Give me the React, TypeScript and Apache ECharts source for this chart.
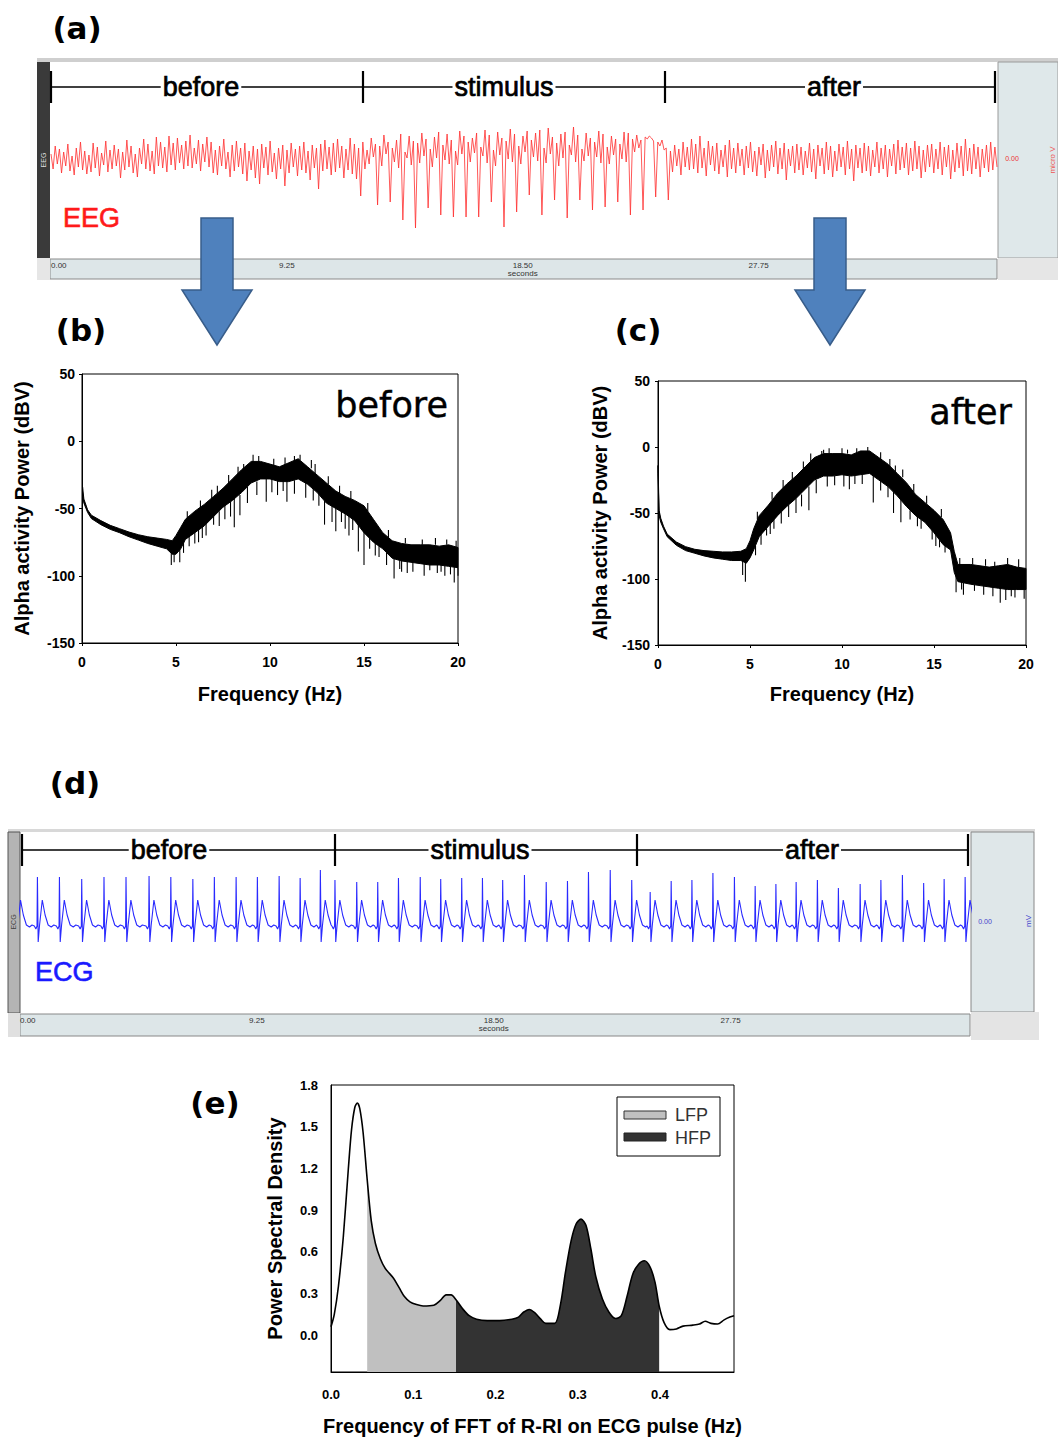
import React, { useEffect, useRef } from 'react';
import * as echarts from 'echarts';

// ---------- (a) EEG trace (display units, 0 = trace centre) ----------
const eegBefore = [
  6, -9, 14, -4, 11, -13, 8, -6, 16, -11, 4, -15, 12, -7, 18, -10, 9, -14, 5, -12, 17, -8, 13, -16, 7, -5, 19, -12, 10, -9,
  15, -6, 11, -18, 8, -10, 20, -7, 14, -13, 6, -17, 12, -4, 21, -9, 16, -11, 9, -14, 23, -6, 18, -8, 13, -12, 24, -5, 17, -10,
  22, -3, 15, -9, 19, -6, 25, -8, 12, -4, 20, -11, 16, -2, 23, -7, 18, -13, 10, -15, 14, -6, 21, -9, 8, -17, 15, -11, 19, -7,
  12, -14, 17, -21, 9, -10, 14, -18, 11, -24, 16, -8, 13, -15, 19, -12, 7, -19, 12, -9, 15, -26, 10, -13, 17, -7, 11, -16, 14, -10,
  18, -13, 9, -20, 15, -8, 12, -29, 16, -11, 20, -9, 13, -15, 17, -12, 21, -8, 14, -18, 11, -10, 22, -14, 16, -19, 12, -36, 18, -9,
];
const eegStimulus = [
  10, -4, 22, 3, 16, -45, 14, -6, 25, 6, 18, -42, 12, -2, 20, -8, 26, -60, 8, 2, 24, -5, 19, -68,
  17, -3, 27, 4, 21, -48, 11, -7, 23, 2, 28, -55, 15, 0, 26, -4, 20, -57, 9, -5, 29, 6, 24, -57,
  18, -2, 22, 7, 27, -57, 13, 4, 30, -3, 25, -42, 10, -6, 28, 5, 22, -67, 19, 1, 31, -2, 26, -52,
  14, -4, 24, 8, 29, -35, 20, 3, 27, -1, 30, -55, 12, -3, 32, 6, 23, -40, 17, -6, 26, 2, 28, -58,
  15, 5, 33, -2, 25, -40, 11, -1, 27, 4, 22, -50, 18, 3, 29, -3, 26, -47, 13, -4, 24, 5, 21, -42,
  16, 1, 28, -2, 27, -55, 21, 8, 25, 12, 20, -50, 23, 21, 24, 22, 19, -37, 18, 14, 20, 10, 12, -40,
];
const eegAfter = [
  9, -12, 15, -6, 11, -15, 18, -7, 13, -10, 21, -9, 16, -13, 24, -8, 12, -16, 19, -5, 14, -11, 17, -14, 10, -7, 15, -17, 20, -9, 12,
  -13, 17, -6, 11, -15, 14, -8, 18, -12, 9, -16, 13, -5, 16, -18, 10, -11, 15, -7, 19, -14, 12, -9, 17, -20, 11, -6, 14, -13, 16, -10,
  13, -15, 9, -8, 17, -12, 11, -19, 15, -6, 12, -14, 18, -10, 14, -17, 9, -11, 16, -7, 13, -15, 19, -9, 11, -21, 15, -8, 12, -13, 17,
  -11, 14, -16, 10, -7, 18, -13, 12, -9, 15, -17, 11, -6, 16, -14, 20, -10, 13, -8, 17, -15, 12, -11, 19, -9, 14, -18, 10, -12, 15, -7,
  16, -13, 11, -9, 18, -15, 13, -7, 15, -19, 10, -12, 17, -8, 14, -16, 21, -11, 12, -14, 16, -9, 13, -17, 11, -8, 15, -12, 18, -10, 13, -7,
];
const timeMax = 37.1;
const timeTicks = [0, 9.25, 18.5, 27.75];

// ---------- (d) ECG: beat times (s), R-peak heights, one beat's shape ----------
const ecgBeatTimes = [
  -0.17, 0.68, 1.54, 2.41, 3.28, 4.14, 5.04, 5.89, 6.75, 7.59, 8.44, 9.27, 10.12, 10.94, 11.73,
  12.3, 13.15, 13.97, 14.78, 15.63, 16.43, 17.25, 18.06, 18.85, 19.7, 20.55, 21.38, 22.2, 23.05,
  23.89, 24.61, 25.43, 26.24, 27.06, 27.9, 28.71, 29.52, 30.31, 31.14, 31.96, 32.81, 33.62, 34.46,
  35.29, 36.09, 36.91,
];
const ecgRHeights = [
  49, 49, 49, 47, 49, 49, 50, 49, 47, 49, 49, 49, 50, 48, 56,
  46, 44, 44, 48, 49, 47, 48, 48, 46, 51, 44, 45, 54, 56,
  46, 34, 45, 46, 53, 49, 40, 42, 44, 46, 38, 42, 46, 51,
  43, 47, 49,
];
// [offset from R peak (s), value]; null marks the R peak itself
const ecgShape: [number, number | null][] = [
  [-0.12, 0], [-0.06, -3], [-0.015, 0], [0, null], [0.03, -16], [0.08, 0],
  [0.19, 26], [0.3, 11], [0.42, 1], [0.54, -1], [0.64, 1],
];

// ---------- (b) / (c) spectra: [Hz, upper dBV, lower dBV] bands and spikes [Hz, from, to] ----------
const bBand = [
  [0.03, -34, -40], [0.1, -43, -46], [0.3, -51, -53], [0.5, -55, -57.5], [1.0, -59, -62],
  [1.5, -62.5, -65.5], [2.0, -65, -68], [2.5, -67.5, -71], [3.0, -69.5, -73.5], [3.5, -71, -76],
  [4.0, -72, -78], [4.5, -73, -80], [4.8, -74, -84], [5.0, -70, -84], [5.25, -64, -80],
  [5.5, -58, -73], [6.0, -52, -68], [6.5, -47, -63], [7.0, -41, -56], [7.5, -35, -49],
  [8.0, -28, -44], [8.5, -21, -38], [9.0, -15, -31], [9.5, -15, -28], [10.0, -17, -28],
  [10.5, -19, -30], [11.0, -16, -30], [11.5, -13, -28], [12.0, -19, -32], [12.5, -25, -38],
  [13.0, -31, -46], [13.5, -37, -50], [14.0, -41, -54], [14.5, -44, -59], [15.0, -48, -68],
  [15.5, -58, -75], [16.0, -68, -80], [16.5, -74, -87], [17.0, -76, -89], [17.5, -77, -90],
  [18.0, -77, -91], [18.5, -77, -92], [19.0, -78, -92], [19.5, -77, -93], [20.0, -79, -94],
];
const bSpikes = [
  [4.75, -80, -92], [4.9, -82, -90], [5.2, -78, -90], [5.4, -72, -83], [6.2, -65, -75],
  [6.6, -60, -70], [7.3, -52, -63], [8.1, -42, -64], [8.4, -40, -55], [9.8, -28, -45],
  [10.4, -29, -40], [10.9, -29, -45], [11.9, -30, -42], [12.3, -34, -44], [12.9, -44, -62],
  [13.3, -46, -60], [13.5, -48, -67], [14.2, -55, -70], [14.7, -58, -82], [15.0, -66, -92],
  [15.6, -74, -85], [16.6, -85, -102], [17.0, -87, -97], [17.3, -88, -98], [18.2, -90, -100],
  [18.9, -91, -98], [19.3, -92, -100], [19.8, -92, -105],
  [5.7, -70, -78], [6.0, -67, -76], [6.4, -62, -72], [7.0, -55, -62], [7.6, -48, -58],
  [7.9, -45, -56], [8.8, -34, -46], [9.3, -30, -40], [10.1, -28, -38], [10.7, -29, -37],
  [11.3, -29, -39], [12.6, -38, -48], [13.8, -52, -60], [14.0, -53, -65], [14.4, -57, -66],
  [15.3, -72, -80], [15.8, -77, -86], [16.2, -80, -92], [16.9, -88, -95], [17.6, -90, -97],
  [18.5, -91, -96], [19.1, -92, -97], [19.6, -93, -99], [20.0, -94, -100],
  [9.1, -16, -10], [11.6, -14, -10], [8.6, -22, -17], [12.2, -20, -14], [6.9, -43, -36],
  [5.6, -58, -52], [6.3, -50, -44], [7.2, -39, -33], [7.8, -32, -25], [8.3, -25, -19],
  [9.4, -15, -11], [10.2, -18, -13], [10.8, -18, -12], [11.3, -15, -11], [12.4, -24, -17],
  [13.1, -32, -26], [13.7, -39, -33], [14.3, -43, -37], [15.2, -52, -46], [16.3, -72, -66],
  [17.2, -76, -72], [18.1, -77, -73], [18.8, -77, -72], [19.4, -77, -73], [19.9, -79, -74],
];
const cBand = [
  [0.0, -14, -20], [0.06, -48, -52], [0.15, -54, -57], [0.3, -60, -62], [0.5, -66, -68],
  [1.0, -72, -74.5], [1.5, -75.5, -78.5], [2.0, -77.5, -80.5], [2.5, -78.5, -82.5], [3.0, -79, -84],
  [3.5, -79.5, -85], [4.0, -79.5, -86], [4.5, -79, -86], [4.8, -77, -88], [5.0, -71, -84],
  [5.2, -62, -78], [5.5, -52, -68], [6.0, -44, -60], [6.5, -35, -52], [7.0, -28, -45],
  [7.5, -22, -39], [8.0, -15, -32], [8.5, -8, -25], [9.0, -5, -22], [9.5, -5, -22],
  [10.0, -5, -21], [10.5, -6, -22], [11.0, -3, -21], [11.5, -3, -20], [12.0, -8, -25],
  [12.5, -13, -30], [13.0, -20, -37], [13.5, -27, -45], [14.0, -36, -52], [14.5, -42, -57],
  [15.0, -48, -65], [15.5, -55, -74], [15.9, -65, -78], [16.1, -79, -95], [16.3, -89, -102],
  [17.0, -89, -104], [17.5, -90, -105], [18.0, -91, -106], [18.5, -90, -107], [19.0, -89, -108],
  [19.5, -91, -108], [20.0, -92, -108],
];
const cSpikes = [
  [4.6, -86, -97], [4.75, -87, -102], [5.3, -75, -82], [5.9, -58, -67], [6.3, -55, -62],
  [7.5, -38, -50], [7.8, -36, -45], [8.2, -30, -48], [9.2, -22, -30], [10.1, -21, -30],
  [10.7, -22, -28], [11.7, -21, -42], [12.8, -34, -50], [13.2, -38, -57], [14.3, -55, -62],
  [14.9, -62, -70], [15.3, -70, -76], [16.2, -97, -110], [16.6, -103, -112], [17.2, -104, -109],
  [18.6, -106, -118], [19.2, -107, -113], [19.9, -108, -115],
  [5.6, -66, -74], [6.1, -58, -66], [6.7, -49, -58], [7.1, -44, -53], [8.6, -25, -35],
  [9.6, -22, -29], [10.4, -22, -32], [11.1, -21, -28], [12.1, -25, -33], [12.5, -30, -38],
  [13.7, -48, -55], [14.1, -52, -60], [15.1, -66, -75], [15.6, -74, -80], [16.5, -102, -108],
  [17.7, -105, -112], [18.2, -106, -113], [18.9, -107, -116], [19.4, -108, -114],
  [11.4, -3, 0], [9.0, -5, -2], [10.0, -5, -1], [8.9, -6, -3], [12.9, -19, -14],
  [17.1, -89, -84], [19.6, -91, -85],
  [5.4, -55, -49], [6.2, -40, -34], [6.8, -31, -25], [7.3, -25, -19], [7.9, -17, -11],
  [8.3, -11, -5], [9.3, -5, -1], [10.3, -5, -2], [10.8, -5, -1], [12.1, -9, -4],
  [12.6, -15, -9], [13.3, -23, -17], [13.9, -34, -28], [14.6, -43, -37], [15.4, -53, -47],
  [16.4, -89, -84], [17.8, -90, -85], [18.3, -91, -87], [19.0, -89, -84],
];
const dbTicks = { min: -150, max: 50, step: 50 };

// ---------- (e) PSD of R-R intervals ----------
const psd = [
  [0.0, 0.06], [0.004, 0.15], [0.009, 0.35], [0.015, 0.71], [0.021, 1.19], [0.025, 1.48],
  [0.029, 1.64], [0.032, 1.67], [0.035, 1.63], [0.039, 1.46], [0.044, 1.12], [0.049, 0.82],
  [0.054, 0.66], [0.06, 0.55], [0.066, 0.48], [0.076, 0.41], [0.083, 0.34], [0.089, 0.28],
  [0.096, 0.24], [0.104, 0.22], [0.112, 0.21], [0.125, 0.215], [0.133, 0.25], [0.14, 0.29],
  [0.146, 0.29], [0.152, 0.255], [0.16, 0.19], [0.168, 0.14], [0.177, 0.115], [0.19, 0.105],
  [0.205, 0.105], [0.22, 0.115], [0.228, 0.13], [0.234, 0.165], [0.241, 0.185], [0.248, 0.16],
  [0.255, 0.115], [0.261, 0.085], [0.272, 0.085], [0.279, 0.22], [0.285, 0.45], [0.292, 0.68],
  [0.298, 0.8], [0.304, 0.835], [0.31, 0.79], [0.316, 0.62], [0.322, 0.42], [0.33, 0.26],
  [0.338, 0.165], [0.346, 0.12], [0.353, 0.14], [0.36, 0.28], [0.367, 0.44], [0.374, 0.51],
  [0.381, 0.535], [0.388, 0.49], [0.394, 0.38], [0.399, 0.21], [0.405, 0.09], [0.412, 0.04],
  [0.42, 0.045], [0.428, 0.065], [0.44, 0.072], [0.448, 0.08], [0.455, 0.1], [0.462, 0.085],
  [0.47, 0.08], [0.478, 0.11], [0.485, 0.13], [0.49, 0.14],
];
const lfpRange = [0.044, 0.152];
const hfpRange = [0.152, 0.399];
const psdYTicks = [0, 0.3, 0.6, 0.9, 1.2, 1.5, 1.8];
const psdXTicks = [0, 0.1, 0.2, 0.3, 0.4];

const AR = 'Liberation Sans';
const DJ = 'DejaVu Sans';

function txt(text: string, x: number, y: number, o: any = {}) {
  return {
    type: 'text', x, y, z: 50, rotation: o.rotation || 0,
    style: {
      text, fill: o.fill || '#000', fontSize: o.fontSize || 12, fontFamily: o.fontFamily || AR,
      fontWeight: o.fontWeight || 'normal', textAlign: o.align || 'center', textVerticalAlign: o.valign || 'middle',
      align: o.align || 'center', verticalAlign: o.valign || 'middle',
      stroke: o.stroke, lineWidth: o.stroke ? (o.sw || 0.6) : 0,
      backgroundColor: o.bg, padding: o.bg ? [0, 2] : undefined,
    },
  };
}
function rect(x: number, y: number, w: number, h: number, fill: string, stroke?: string, z = 0) {
  return { type: 'rect', z, shape: { x, y, width: w, height: h }, style: { fill, stroke: stroke || 'none', lineWidth: 1 } };
}
function seg(x1: number, y1: number, x2: number, y2: number, w = 1.5) {
  return { type: 'line', z: 50, shape: { x1, y1, x2, y2 }, style: { stroke: '#000', lineWidth: w } };
}
function bracket(xs: number[], y: number, labels: [string, number][]) {
  const els: any[] = [seg(xs[0], y, xs[xs.length - 1], y, 1.6)];
  xs.forEach((x) => els.push(seg(x, y - 16, x, y + 16, 2.2)));
  labels.forEach(([t, x]) => els.push(txt(t, x, y, { fontSize: 27, bg: '#fff', stroke: '#000', sw: 0.7 })));
  return els;
}
function arrow(cx: number) {
  const pts = [[cx - 16, 218], [cx + 16, 218], [cx + 16, 290], [cx + 35, 290], [cx, 345], [cx - 35, 290], [cx - 16, 290]];
  return { type: 'polygon', z: 60, shape: { points: pts }, style: { fill: '#4f81bd', stroke: '#385d8a', lineWidth: 1.5 } };
}

function bandSeries(band: number[][], idx: number) {
  return {
    type: 'custom', xAxisIndex: idx, yAxisIndex: idx, silent: true, data: [[0, 0]],
    renderItem: (_p: any, api: any) => {
      const pts: number[][] = [];
      band.forEach((r) => pts.push(api.coord([r[0], r[1]])));
      for (let i = band.length - 1; i >= 0; i--) pts.push(api.coord([band[i][0], band[i][2]]));
      return { type: 'polygon', shape: { points: pts }, style: { fill: '#000', stroke: '#000', lineWidth: 1 } };
    },
  };
}
function spikeSeries(spikes: number[][], idx: number) {
  return {
    type: 'custom', xAxisIndex: idx, yAxisIndex: idx, silent: true, data: spikes,
    encode: { x: 0, y: [1, 2] },
    renderItem: (_p: any, api: any) => {
      const a = api.coord([api.value(0), api.value(1)]);
      const b = api.coord([api.value(0), api.value(2)]);
      return { type: 'line', shape: { x1: a[0], y1: a[1], x2: b[0], y2: b[1] }, style: { stroke: '#000', lineWidth: 1.1 } };
    },
  };
}

const tickLabel = { color: '#000', fontWeight: 'bold', fontSize: 14, fontFamily: AR };
const nameStyle = { color: '#000', fontWeight: 'bold', fontSize: 20, fontFamily: AR };
const blackLine = { show: true, onZero: false, lineStyle: { color: '#000', width: 1 } };

function specAxes(idx: number, xGap: number, yGap: number, yMargin: number) {
  return {
    x: {
      gridIndex: idx, type: 'value', min: 0, max: 20, interval: 5, axisLine: blackLine,
      axisTick: { show: true, length: 3, lineStyle: { color: '#000' } },
      axisLabel: { ...tickLabel, margin: 12 }, splitLine: { show: false },
      name: 'Frequency (Hz)', nameLocation: 'middle', nameGap: xGap, nameTextStyle: nameStyle,
    },
    y: {
      gridIndex: idx, type: 'value', min: dbTicks.min, max: dbTicks.max, interval: dbTicks.step, axisLine: blackLine,
      axisTick: { show: true, length: 3, lineStyle: { color: '#000' } },
      axisLabel: { ...tickLabel, margin: yMargin }, splitLine: { show: false },
      name: 'Alpha activity Power (dBV)', nameLocation: 'middle', nameGap: yGap, nameTextStyle: nameStyle,
    },
  };
}

function timeAxis(idx: number) {
  return {
    gridIndex: idx, type: 'value', min: 0, max: timeMax,
    axisLine: { show: false }, axisTick: { show: false, customValues: timeTicks }, splitLine: { show: false },
    axisLabel: {
      customValues: timeTicks, alignMinLabel: 'left', margin: 3, fontSize: 8, lineHeight: 8,
      color: '#333', fontFamily: AR,
      formatter: (v: number) => (Math.abs(v - 18.5) < 1e-6 ? '18.50\nseconds' : v.toFixed(2)),
    },
  };
}

export default function App() {
  const ref = useRef<HTMLDivElement>(null);
  useEffect(() => {
    if (!ref.current) return;
    const chart = echarts.init(ref.current, undefined, { renderer: 'svg' });

    const eegValues = [...eegBefore, ...eegStimulus, ...eegAfter];
    const eegData = eegValues.map((v, i) => [(i * timeMax) / (eegValues.length - 1), v]);

    const ecgData: number[][] = [];
    ecgBeatTimes.forEach((bt, i) => {
      const next = i + 1 < ecgBeatTimes.length ? ecgBeatTimes[i + 1] + ecgShape[0][0] : Infinity;
      ecgShape.forEach(([dt, v]) => {
        const t = bt + dt;
        if (t < next) ecgData.push([t, v === null ? ecgRHeights[i] : v]);
      });
    });

    const lfp = psd.filter((p) => p[0] >= lfpRange[0] && p[0] <= lfpRange[1]);
    const hfp = psd.filter((p) => p[0] >= hfpRange[0] && p[0] <= hfpRange[1]);

    const b = specAxes(1, 41, 50, 7);
    const c = specAxes(2, 39, 48, 8);

    const graphic: any[] = [
      // (a) recorder frame
      rect(37, 58, 1021, 4, '#cfcfcf'),
      rect(37, 62, 13, 196, '#3a3a3a'),
      rect(998, 62, 60, 196, '#dfe8ea', '#9a9a9a'),
      rect(50, 259, 947, 20, '#dde6e8', '#8a8a8a'),
      rect(37, 258, 13, 22, '#e6e6e6'),
      rect(998, 258, 60, 22, '#e6e6e6'),
      txt('EEG', 43, 160, { rotation: Math.PI / 2, fontSize: 7, fill: '#dddddd' }),
      txt('0.00', 1012, 158, { fontSize: 7, fill: '#e33' }),
      txt('micro V', 1052, 160, { rotation: Math.PI / 2, fontSize: 8, fill: '#e55' }),
      txt('EEG', 63, 218, { fontSize: 27, fill: '#ff1a1a', align: 'left', stroke: '#ff1a1a', sw: 0.6 }),
      ...bracket([51, 363, 665, 995], 87, [['before', 201], ['stimulus', 504], ['after', 834]]),
      // (d) recorder frame
      rect(8, 829, 1027, 3, '#d8d8d8'),
      rect(8, 832, 12, 181, '#b4b4b4', '#555'),
      rect(971, 832, 63, 180, '#dfe7e9', '#888'),
      rect(20, 1014, 950, 22, '#dde6e8', '#888'),
      rect(8, 1013, 12, 24, '#e0e0e0'),
      rect(971, 1012, 68, 28, '#e4e4e4'),
      txt('ECG', 13, 922, { rotation: Math.PI / 2, fontSize: 7, fill: '#444' }),
      txt('0.00', 985, 921, { fontSize: 7, fill: '#44c' }),
      txt('mV', 1028, 921, { rotation: Math.PI / 2, fontSize: 8, fill: '#44c' }),
      txt('ECG', 35, 972, { fontSize: 27, fill: '#1a1aff', align: 'left', stroke: '#1a1aff', sw: 0.6 }),
      ...bracket([22, 335, 637, 968], 850, [['before', 169], ['stimulus', 480], ['after', 812]]),
      // arrows
      arrow(217),
      arrow(830),
      // panel letters
      txt('(a)', 77, 28, { fontSize: 31, fontWeight: 'bold', fontFamily: DJ }),
      txt('(b)', 81, 330, { fontSize: 31, fontWeight: 'bold', fontFamily: DJ }),
      txt('(c)', 638, 330, { fontSize: 31, fontWeight: 'bold', fontFamily: DJ }),
      txt('(d)', 75, 783, { fontSize: 31, fontWeight: 'bold', fontFamily: DJ }),
      txt('(e)', 215, 1103, { fontSize: 31, fontWeight: 'bold', fontFamily: DJ }),
      // in-plot captions
      txt('before', 448, 405, { fontSize: 35, fontFamily: DJ, align: 'right', stroke: '#000', sw: 0.4 }),
      txt('after', 1012, 412, { fontSize: 35, fontFamily: DJ, align: 'right', stroke: '#000', sw: 0.4 }),
      // (e) legend
      { type: 'rect', z: 55, shape: { x: 617, y: 1097, width: 103, height: 59 }, style: { fill: '#fff', stroke: '#000', lineWidth: 1 } },
      { type: 'rect', z: 56, shape: { x: 624, y: 1111, width: 42, height: 8 }, style: { fill: '#c0c0c0', stroke: '#333', lineWidth: 1 } },
      { type: 'rect', z: 56, shape: { x: 624, y: 1133, width: 42, height: 8 }, style: { fill: '#333333', stroke: '#222', lineWidth: 1 } },
      { ...txt('LFP', 675, 1115, { fontSize: 18, fill: '#333', align: 'left' }), z: 57 },
      { ...txt('HFP', 675, 1138, { fontSize: 18, fill: '#333', align: 'left' }), z: 57 },
    ];

    chart.setOption({
      animation: false,
      backgroundColor: '#fff',
      grid: [
        { left: 51, top: 62, width: 946, height: 196 },
        { left: 82, top: 374, width: 376, height: 269, show: true, borderColor: '#000', borderWidth: 1 },
        { left: 658, top: 381, width: 368, height: 264, show: true, borderColor: '#000', borderWidth: 1 },
        { left: 20, top: 832, width: 950, height: 181 },
        { left: 331, top: 1085, width: 403, height: 287, show: true, borderColor: '#000', borderWidth: 1 },
      ],
      xAxis: [
        timeAxis(0),
        b.x,
        c.x,
        timeAxis(3),
        {
          gridIndex: 4, type: 'value', min: 0, max: 0.49, axisLine: blackLine, axisTick: { show: false },
          splitLine: { show: false },
          axisLabel: { customValues: psdXTicks, ...tickLabel, fontSize: 13, margin: 16, formatter: (v: number) => v.toFixed(1) },
          name: 'Frequency of FFT of R-RI on ECG pulse (Hz)', nameLocation: 'middle', nameGap: 44, nameTextStyle: nameStyle,
        },
      ],
      yAxis: [
        { gridIndex: 0, type: 'value', min: -98, max: 98, show: false },
        b.y,
        c.y,
        { gridIndex: 3, type: 'value', min: -87, max: 94, show: false },
        {
          gridIndex: 4, type: 'value', min: -0.265, max: 1.8, axisLine: blackLine, axisTick: { show: false },
          splitLine: { show: false },
          axisLabel: { customValues: psdYTicks, ...tickLabel, fontSize: 13, margin: 13, formatter: (v: number) => v.toFixed(1) },
          name: 'Power Spectral Density', nameLocation: 'middle', nameGap: 46, nameTextStyle: nameStyle,
        },
      ],
      series: [
        {
          type: 'line', xAxisIndex: 0, yAxisIndex: 0, data: eegData, showSymbol: false, symbol: 'none',
          lineStyle: { color: '#ff3030', width: 0.9, opacity: 0.9 }, silent: true,
        },
        bandSeries(bBand, 1),
        spikeSeries(bSpikes, 1),
        bandSeries(cBand, 2),
        spikeSeries(cSpikes, 2),
        {
          type: 'line', xAxisIndex: 3, yAxisIndex: 3, data: ecgData, showSymbol: false, symbol: 'none',
          lineStyle: { color: '#2a2aff', width: 1.1 }, silent: true,
        },
        {
          type: 'line', xAxisIndex: 4, yAxisIndex: 4, data: lfp, smooth: 0.3, symbol: 'none', z: 1,
          lineStyle: { width: 0 }, areaStyle: { color: '#c0c0c0', opacity: 1, origin: 'start' }, silent: true,
        },
        {
          type: 'line', xAxisIndex: 4, yAxisIndex: 4, data: hfp, smooth: 0.3, symbol: 'none', z: 1,
          lineStyle: { width: 0 }, areaStyle: { color: '#333333', opacity: 1, origin: 'start' }, silent: true,
        },
        {
          type: 'line', xAxisIndex: 4, yAxisIndex: 4, data: psd, smooth: 0.3, symbol: 'none', z: 3,
          lineStyle: { color: '#000', width: 1.6 }, silent: true,
        },
      ],
      graphic,
    });
    return () => chart.dispose();
  }, []);
  return (
    <div
      ref={ref}
      style={{ position: 'absolute', left: 0, top: 0, width: 1058, height: 1439, background: '#fff' }}
    />
  );
}
